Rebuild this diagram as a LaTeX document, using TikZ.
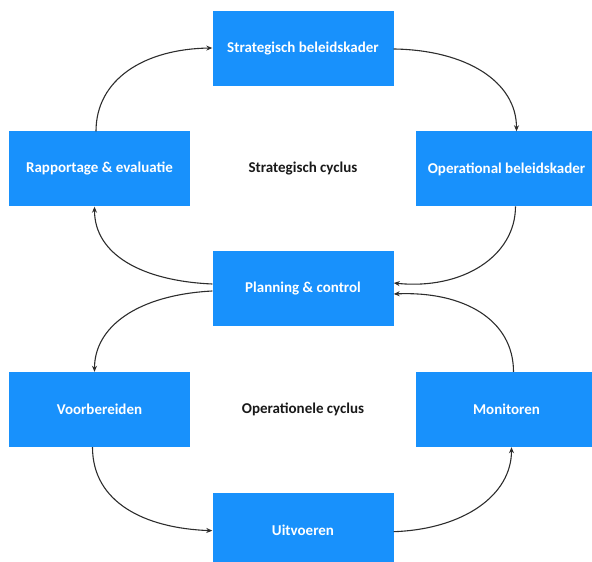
\documentclass[tikz,border=0pt]{standalone}
\usepackage{fontspec}
\setmainfont{Carlito}
\usetikzlibrary{arrows.meta,calc}
\definecolor{boxblue}{RGB}{24,145,252}
\definecolor{linegray}{RGB}{45,45,45}
\begin{document}
\begin{tikzpicture}[x=1pt,y=1pt,
  blk/.style={fill=boxblue,draw=none,minimum width=181pt,minimum height=75pt,inner sep=0pt,
    text=white,font=\fontsize{15}{18}\selectfont\bfseries},
  lbl/.style={text=black!90,font=\fontsize{15}{18}\selectfont\bfseries},
  conn/.style={draw=linegray,line width=1.1pt,-{Stealth[length=6pt,width=5pt]}}]
\useasboundingbox (0,0) rectangle (592,562);
\clip (0,0) rectangle (592,562);
\node[blk] (sb) at (303,513) {Strategisch beleidskader};
\node[blk] (re) at (99.5,393) {Rapportage \& evaluatie};
\node[blk] (ob) at (506.5,393) {Operational beleidskader};
\node[blk] (pc) at (303,273) {Planning \& control};
\node[blk] (vb) at (99.5,152.5) {Voorbereiden};
\node[blk] (mo) at (506.5,152.5) {Monitoren};
\node[blk] (ui) at (303,31.8) {Uitvoeren};
\node[lbl] (sc) at (303,393) {Strategisch cyclus};
\node[lbl] (oc) at (303,152.5) {Operationele cyclus};
% strategic cycle
\draw[conn] ($(re.north)+(-3.5,0)$) .. controls ($(re.north)+(-3.5,52)$) and ($(sb.west)+(-68,0)$) .. ($(sb.west)+(0,1)$);
\draw[conn] ($(sb.east)+(0,0)$) .. controls ($(sb.east)+(72,-1)$) and ($(ob.north)+(10,50)$) .. ($(ob.north)+(10,0)$);
\draw[conn] ($(ob.north)+(9,-75)$) .. controls ($(ob.south)+(9,-50)$) and ($(pc.east)+(68,-1)$) .. ($(pc.east)+(0,6)$);
\draw[conn] ($(pc.west)+(0,5)$) .. controls ($(pc.west)+(-70,8)$) and ($(re.south)+(-5,-48)$) .. ($(re.south)+(-5,0)$);
% operational cycle
\draw[conn] ($(pc.west)+(0,-2)$) .. controls ($(pc.west)+(-75,-6)$) and ($(vb.north)+(-5,45)$) .. ($(vb.north)+(-5,0)$);
\draw[conn] ($(vb.south)+(-7,0)$) .. controls ($(vb.south)+(-7,-55)$) and ($(ui.west)+(-68,2)$) .. ($(ui.west)+(0,-0.5)$);
\draw[conn] ($(ui.east)+(0,-1.5)$) .. controls ($(ui.east)+(70,1)$) and ($(mo.south)+(5,-48)$) .. ($(mo.south)+(5,0)$);
\draw[conn] ($(mo.north)+(7,0)$) .. controls ($(mo.north)+(7,52)$) and ($(pc.east)+(70,-2)$) .. ($(pc.east)+(0,-5)$);
\end{tikzpicture}
\end{document}
